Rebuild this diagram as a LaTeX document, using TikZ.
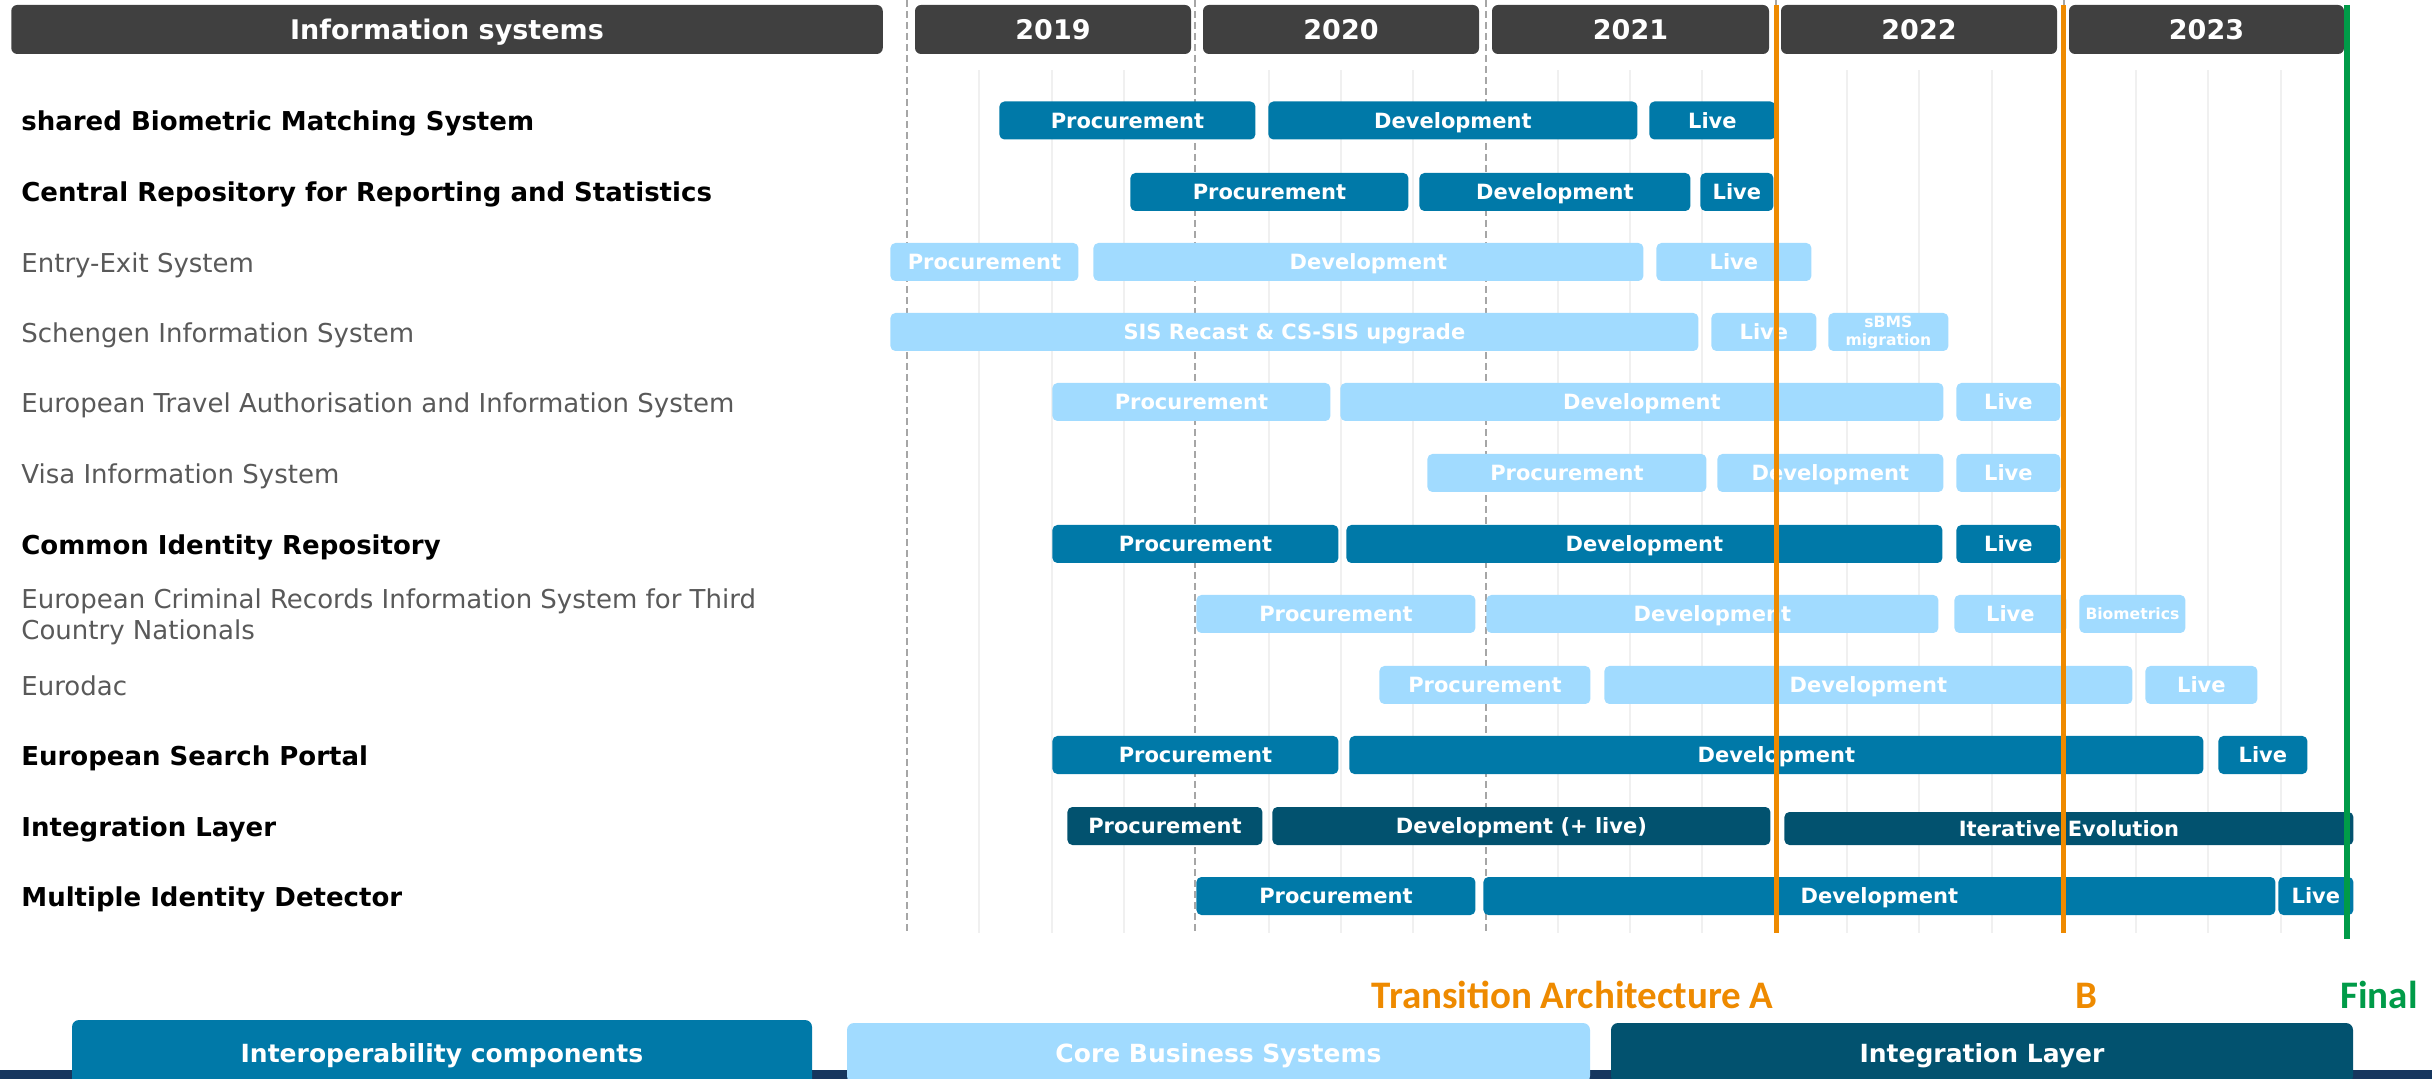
\documentclass[tikz,border=0pt]{standalone}
\usepackage{fontspec}
\setmainfont{DejaVu Sans}
\newfontfamily\calib{Carlito}
\definecolor{ioblue}{HTML}{0079A8}
\definecolor{lightb}{HTML}{A1DBFF}
\definecolor{ilteal}{HTML}{02526F}
\definecolor{hdrgray}{HTML}{404040}
\definecolor{lblgray}{HTML}{595959}
\definecolor{gridc}{HTML}{F0F0F0}
\definecolor{dashc}{HTML}{A6A6A6}
\definecolor{orng}{HTML}{EE8A00}
\definecolor{grn}{HTML}{009B48}
\definecolor{navy}{HTML}{16365E}
\tikzset{
  capc/.style={text height=#1, text depth=0pt},
  nocapc/.style={text height={}, text depth={}},
  barbase/.style={rectangle, rounded corners=2.5pt, inner sep=0pt, text=white, capc=7.67pt,
    font=\bfseries\fontsize{10.5}{12}\selectfont, anchor=west, minimum height=19pt},
  io/.style={barbase, fill=ioblue},
  cb/.style={barbase, fill=lightb},
  il/.style={barbase, fill=ilteal},
  smalltxt/.style={font=\bfseries\fontsize{7.8}{9}\selectfont, align=center, nocapc},
  hdr/.style={rectangle, rounded corners=3pt, fill=hdrgray, text=white, inner sep=0pt, capc=9.85pt,
    minimum height=24.5pt, font=\bfseries\fontsize{13.5}{16}\selectfont},
  lblbold/.style={anchor=west, inner sep=0pt, text=black, capc=9.5pt, font=\bfseries\fontsize{13}{15.5}\selectfont},
  lblreg/.style={anchor=west, inner sep=0pt, text=lblgray, capc=9.5pt, font=\fontsize{13}{15.5}\selectfont},
  gridline/.style={gridc, line width=1pt},
  yearline/.style={dashc, line width=1pt, dash pattern=on 3.5pt off 2pt},
  milestone/.style={line width=2.5pt, orng},
  finalline/.style={line width=3pt, grn},
  mtext/.style={inner sep=0pt, font=\calib\bfseries\fontsize{19.5}{22}\selectfont},
  legendbox/.style={rectangle, rounded corners=3.5pt, inner sep=0pt, text=white, capc=9.1pt,
    font=\bfseries\fontsize{12.5}{15}\selectfont}
}
\newcommand\gbar[6]{\node[#5, minimum width={(#3-#2)*0.5pt}] (#1) at (#2,#4) {#6};}
\begin{document}
\begin{tikzpicture}[x=0.5pt, y=-0.5pt]
\useasboundingbox (0,0) rectangle (2432,1079);
\clip (0,0) rectangle (2432,1079);
% quarter grid
\foreach \k in {1,2,3,5,6,7,9,10,11,13,14,15,17,18,19}
  \draw[gridline] ({907+72.3*\k},70) -- ({907+72.3*\k},933);
% year boundaries
\foreach \xx in {907,1195,1486,1776,2064}
  \draw[yearline] (\xx,0) -- (\xx,933);
% headers
\node[hdr, minimum width=435.75pt] (hinfo) at (447,29.5) {Information systems};
\node[hdr, minimum width=138pt] (h2019) at (1053,29.5) {2019};
\node[hdr, minimum width=138pt] (h2020) at (1341,29.5) {2020};
\node[hdr, minimum width=138.5pt] (h2021) at (1630.5,29.5) {2021};
\node[hdr, minimum width=138pt] (h2022) at (1919,29.5) {2022};
\node[hdr, minimum width=137.5pt] (h2023) at (2206.5,29.5) {2023};
% row labels
\node[lblbold] (l1) at (21,121.5) {shared Biometric Matching System};
\node[lblbold] (l2) at (21,192.5) {Central Repository for Reporting and Statistics};
\node[lblreg] (l3) at (21,263) {Entry-Exit System};
\node[lblreg] (l4) at (21,333) {Schengen Information System};
\node[lblreg] (l5) at (21,403) {European Travel Authorisation and Information System};
\node[lblreg] (l6) at (21,474) {Visa Information System};
\node[lblbold] (l7) at (21,545) {Common Identity Repository};
\node[lblreg, nocapc, align=left] (l8) at (21,617) {European Criminal Records Information System for Third\\Country Nationals};
\node[lblreg] (l9) at (21,686) {Eurodac};
\node[lblbold] (l10) at (21,756) {European Search Portal};
\node[lblbold] (l11) at (21,827) {Integration Layer};
\node[lblbold] (l12) at (21,897) {Multiple Identity Detector};
% bars
\gbar{sbmsp}{999}{1255}{120.5}{io}{Procurement}
\gbar{sbmsd}{1268}{1637}{120.5}{io}{Development}
\gbar{sbmsl}{1649}{1775}{120.5}{io}{Live}
\gbar{crrsp}{1130}{1408}{192}{io}{Procurement}
\gbar{crrsd}{1419}{1690}{192}{io}{Development}
\gbar{crrsl}{1700}{1773}{192}{io}{Live}
\gbar{eesp}{890}{1078}{262}{cb}{Procurement}
\gbar{eesd}{1093}{1643}{262}{cb}{Development}
\gbar{eesl}{1656}{1811}{262}{cb}{Live}
\gbar{sisr}{890}{1698}{332}{cb}{SIS Recast \& CS-SIS upgrade}
\gbar{sisl}{1711}{1816}{332}{cb}{Live}
\gbar{sism}{1828}{1948}{332}{cb,smalltxt}{sBMS\\migration}
\gbar{etiasp}{1052}{1330}{402}{cb}{Procurement}
\gbar{etiasd}{1340}{1943}{402}{cb}{Development}
\gbar{etiasl}{1956}{2060}{402}{cb}{Live}
\gbar{visp}{1427}{1706}{473}{cb}{Procurement}
\gbar{visd}{1717}{1943}{473}{cb}{Development}
\gbar{visl}{1956}{2060}{473}{cb}{Live}
\gbar{cirp}{1052}{1338}{544}{io}{Procurement}
\gbar{cird}{1346}{1942}{544}{io}{Development}
\gbar{cirl}{1956}{2060}{544}{io}{Live}
\gbar{ecrisp}{1196}{1475}{614}{cb}{Procurement}
\gbar{ecrisd}{1486}{1938}{614}{cb}{Development}
\gbar{ecrisl}{1954}{2066}{614}{cb}{Live}
\gbar{ecrisb}{2079}{2185}{614}{cb,capc=5.7pt,font=\bfseries\fontsize{7.8}{9}\selectfont}{Biometrics}
\gbar{eurp}{1379}{1590}{685}{cb}{Procurement}
\gbar{eurd}{1604}{2132}{685}{cb}{Development}
\gbar{eurl}{2145}{2257}{685}{cb}{Live}
\gbar{espp}{1052}{1338}{755}{io}{Procurement}
\gbar{espd}{1349}{2203}{755}{io}{Development}
\gbar{espl}{2218}{2307}{755}{io}{Live}
\gbar{ilp}{1067}{1262}{826}{il}{Procurement}
\gbar{ild}{1272}{1770}{826}{il}{Development (+ live)}
\gbar{ile}{1784}{2353}{828.5}{il,minimum height=16.5pt}{Iterative Evolution}
\gbar{midp}{1196}{1475}{896}{io}{Procurement}
\gbar{midd}{1483}{2275}{896}{io}{Development}
\gbar{midl}{2278}{2353}{896}{io}{Live}
% milestone lines
\draw[milestone] (1776,5) -- (1776,933);
\draw[milestone] (2063,5) -- (2063,933);
\draw[finalline] (2347,5) -- (2347,939);
\node[mtext, text=orng, anchor=base east] (mA) at (1774,1008) {Transition Architecture A};
\node[mtext, text=orng, anchor=base west] (mB) at (2075,1008) {B};
\node[mtext, text=grn, anchor=base west] (mF) at (2340,1008) {Final};
% legend
\fill[navy] (0,1070) rectangle (2432,1082);
\node[legendbox, fill=ioblue, minimum width=370pt, minimum height=33pt] (lgio) at (442,1053) {Interoperability components};
\node[legendbox, fill=lightb, minimum width=371.5pt, minimum height=30pt] (lgcb) at (1218.5,1053) {Core Business Systems};
\node[legendbox, fill=ilteal, minimum width=371pt, minimum height=30pt] (lgil) at (1982,1053) {Integration Layer};
\end{tikzpicture}
\end{document}
